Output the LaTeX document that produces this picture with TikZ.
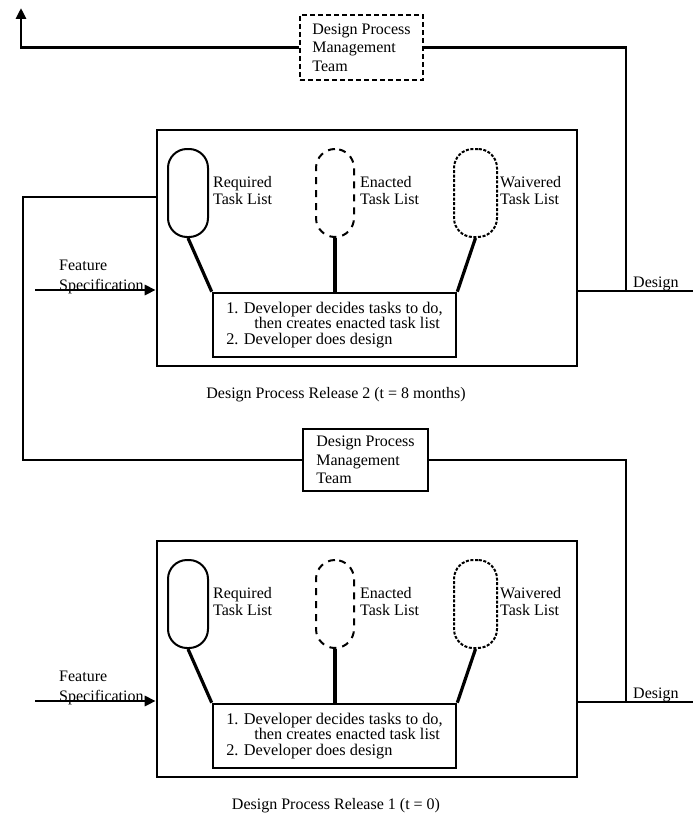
\documentclass[tikz,border=0pt]{standalone}
\usepackage{fontspec}
\setmainfont{Liberation Serif}
\usetikzlibrary{arrows.meta}

\tikzset{
  frame/.style={draw, line width=2.6pt, inner sep=0pt},
  tasklist/.style={draw, line width=2pt, rounded corners=19pt, minimum width=40pt, minimum height=88pt},
  enacted/.style={tasklist, dash pattern=on 7pt off 6pt},
  waivered/.style={tasklist, dash pattern=on 3pt off 1.6pt},
  lbl/.style={align=left, anchor=west, inner sep=0pt, font=\fontsize{16}{17}\selectfont},
  link/.style={line width=3.2pt},
  wire/.style={line width=2.8pt},
  tip/.style={-{Triangle[length=11pt,width=10pt]}}
}

\begin{document}
\begin{tikzpicture}[x=1pt,y=-1pt,font=\fontsize{16}{17}\selectfont]
\useasboundingbox (0,0) rectangle (693,816);

\foreach \i/\s/\when in {2/0/8 months,1/411/0}{
\begin{scope}[yshift=-\s pt]
\node[frame, minimum width=420pt, minimum height=236pt] (rel\i) at (367,248) {};
\node[tasklist] (req\i) at (188,193) {};
\node[enacted, minimum width=38pt] (enc\i) at (335,193) {};
\node[waivered, minimum width=43pt] (wai\i) at (475.5,193) {};
\node[lbl] (reqt\i) at (213,191) {Required\\Task List};
\node[lbl] (enct\i) at (360,191) {Enacted\\Task List};
\node[lbl] (wait\i) at (500,191) {Waivered\\Task List};

\node[frame, minimum width=243pt, minimum height=64pt, align=left,
  font=\fontsize{16.3}{15.5}\selectfont] (task\i) at (334.5,325)
  {1. Developer decides tasks to do,\\\hspace*{28pt}then creates enacted task list\\2. Developer does design};
\draw[link] (req\i.south) -- (task\i.north west);
\draw[link] (enc\i.south) -- (enc\i.south |- task\i.north);
\draw[link] (wai\i.south) -- (task\i.north east);

\node[lbl, font=\fontsize{16}{20}\selectfont] (feat\i) at (59,277) {Feature\\Specification};
\coordinate (fin\i) at (35,290);
\draw[wire,tip] (fin\i) -- (rel\i.west |- fin\i);

\coordinate (dout\i) at (693,291);
\coordinate (tap\i) at (626,291);
\draw[wire] (rel\i.east |- dout\i) -- (dout\i);
\node[anchor=base west, inner sep=0pt] (des\i) at (633,287) {Design};

\node (cap\i) at (336,395) {Design Process Release \i\ (t = \when)};
\end{scope}
}

% management teams
\node[frame, dash pattern=on 5pt off 3pt, minimum width=123pt, minimum height=65pt,
  align=left, font=\fontsize{16}{18.5}\selectfont] (mgr2) at (361.5,47.5)
  {Design Process\\Management\\Team};
\node[frame, minimum width=125pt, minimum height=62pt,
  align=left, font=\fontsize{16}{18.5}\selectfont] (mgr1) at (365.5,460)
  {Design Process\\Management\\Team};

\coordinate (up) at (21,8);
\coordinate (fb) at (23,197);
\draw[wire,tip] (mgr2.west) -| (up);
\draw[wire] (mgr2.east) -| (tap2);
\draw[wire] (rel2.west |- fb) -- (fb) |- (mgr1.west);
\draw[wire] (mgr1.east) -| (tap1);
\end{tikzpicture}
\end{document}
